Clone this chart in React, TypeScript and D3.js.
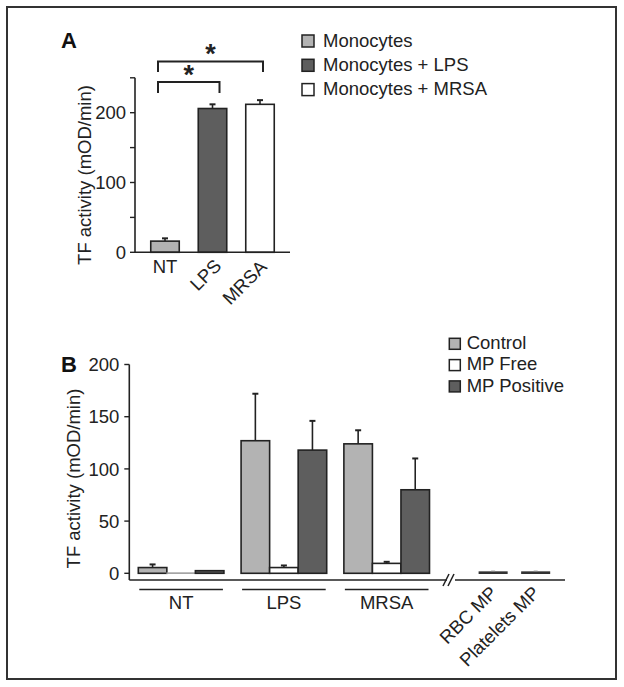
import React from "react";
import * as d3 from "d3";

// ---------- Panel A data ----------
const catsA = ["NT", "LPS", "MRSA"];
const seriesA = ["Monocytes", "Monocytes + LPS", "Monocytes + MRSA"];
const valuesA = [16, 206, 212];
const errTopA = [20, 212, 218];
const ticksA = [0, 50, 100, 150, 200, 250];
const tickLabelsA = ["0", "", "100", "", "200", ""];
const sigPairsA = [["NT", "LPS"], ["NT", "MRSA"]];

// ---------- Panel B data ----------
const groupsB = ["NT", "LPS", "MRSA"];
const seriesB = ["Control", "MP Free", "MP Positive"];
const controlB = [5.5, 127, 124];
const controlTopB = [8.5, 172, 137];
const freeB = [0.4, 5.5, 9.5];
const freeTopB = [0.4, 7.5, 11];
const positiveB = [2.5, 118, 80];
const positiveTopB = [2.8, 146, 110];
const mpOnlyCats = ["RBC MP", "Platelets MP"];
const mpOnlyValues = [1.2, 1.2];
const mpOnlyTop = [1.6, 1.6];
const ticksB = [0, 50, 100, 150, 200];

const LIGHT = "#b3b3b3";
const DARK = "#5e5e5e";
const WHITE = "#ffffff";
const INK = "#222";
const FONT = "Liberation Sans, Arial, Helvetica, sans-serif";

const colorsA = [LIGHT, DARK, WHITE];
const colorsB = [LIGHT, WHITE, DARK];

function ErrBar({ x, y0, y1 }: { x: number; y0: number; y1: number }) {
  return (
    <g stroke={INK} strokeWidth={1.6}>
      <line x1={x} x2={x} y1={y0} y2={y1} />
      <line x1={x - 3} x2={x + 3} y1={y1} y2={y1} strokeWidth={2} />
    </g>
  );
}

export default function App() {
  // Panel A scales
  const xA = d3.scaleBand<string>().domain(catsA).range([141.25, 283.75]).paddingInner(0.4).paddingOuter(0.2);
  const yA = d3.scaleLinear().domain([0, 250]).range([252.3, 77.8]);
  const axisAx = 135;

  // Panel B scales
  const xB = d3.scaleBand<string>().domain(groupsB).range([138.3, 429.5]).paddingInner(0.167).paddingOuter(0);
  const xBin = d3.scaleBand<string>().domain(seriesB).range([0, xB.bandwidth()]).padding(0);
  const xMP = d3.scaleBand<string>().domain(mpOnlyCats).range([479.3, 549.5]).paddingInner(0.35).paddingOuter(0);
  const yB = d3.scaleLinear().domain([0, 200]).range([573.3, 364.5]);
  const axisBx = 129.3;
  const axisBy = 580;

  const valsB = [controlB, freeB, positiveB];
  const topsB = [controlTopB, freeTopB, positiveTopB];

  const bw = xA.bandwidth();
  const cx = (c: string) => (xA(c) as number) + bw / 2;

  const bracketLevels = [{ top: 82, leg: 93, offL: -7, offR: 7, star: 84 }, { top: 61.5, leg: 72, offL: -7, offR: 3, star: 63 }];

  return (
    <svg width={624} height={687} style={{ position: "absolute", left: 0, top: 0, background: "#fff" }} fontFamily={FONT}>
      <rect x={7} y={7} width={609} height={672} fill="none" stroke="#333" strokeWidth={2} />

      {/* ================= Panel A ================= */}
      <text x={61} y={48} fontSize={22} fontWeight="bold" fill="#111">A</text>

      {/* bars */}
      {catsA.map((c, i) => (
        <g key={c}>
          <ErrBar x={cx(c)} y0={yA(valuesA[i])} y1={yA(errTopA[i])} />
          <rect x={xA(c)} y={yA(valuesA[i])} width={bw} height={yA(0) - yA(valuesA[i])} fill={colorsA[i]} stroke={INK} strokeWidth={1.6} />
        </g>
      ))}

      {/* axes */}
      <line x1={axisAx} x2={axisAx} y1={yA(250)} y2={yA(0)} stroke={INK} strokeWidth={1.6} />
      <line x1={axisAx} x2={290} y1={yA(0)} y2={yA(0)} stroke={INK} strokeWidth={1.6} />
      {ticksA.map((t, i) => (
        <g key={t}>
          <line x1={axisAx - 5} x2={axisAx} y1={yA(t)} y2={yA(t)} stroke={INK} strokeWidth={1.4} />
          {tickLabelsA[i] && (
            <text x={axisAx - 9} y={yA(t)} dy="0.36em" textAnchor="end" fontSize={18.5} fill="#222">{tickLabelsA[i]}</text>
          )}
        </g>
      ))}
      <text transform={`translate(91,175) rotate(-90)`} textAnchor="middle" fontSize={18.5} fill="#222">TF activity (mOD/min)</text>

      {/* x labels A */}
      <text x={cx("NT")} y={273} textAnchor="middle" fontSize={18.5} fill="#222">NT</text>
      <text transform={`translate(${cx("LPS") + 10},267) rotate(-45)`} textAnchor="end" fontSize={18.5} fill="#222">LPS</text>
      <text transform={`translate(${cx("MRSA") + 8},268) rotate(-45)`} textAnchor="end" fontSize={18.5} fill="#222">MRSA</text>

      {/* significance brackets */}
      {sigPairsA.map(([a, b], i) => {
        const lv = bracketLevels[i];
        const x1 = cx(a) + lv.offL;
        const x2 = cx(b) + lv.offR;
        return (
          <g key={i}>
            <path d={`M${x1},${lv.leg}V${lv.top}H${x2}V${lv.leg}`} fill="none" stroke={INK} strokeWidth={2} />
            <text x={(x1 + x2) / 2} y={lv.star} textAnchor="middle" fontSize={27} fontWeight="bold" fill="#222">*</text>
          </g>
        );
      })}

      {/* legend A */}
      {seriesA.map((s, i) => (
        <g key={s} transform={`translate(302,${35 + i * 24.3})`}>
          <rect x={0} y={0} width={12} height={12} fill={colorsA[i]} stroke={INK} strokeWidth={1.5} />
          <text x={21} y={11.5} fontSize={18.5} fill="#222">{s}</text>
        </g>
      ))}

      {/* ================= Panel B ================= */}
      <text x={61} y={372} fontSize={22} fontWeight="bold" fill="#111">B</text>

      {groupsB.map((g, gi) => (
        <g key={g} transform={`translate(${xB(g)},0)`}>
          {seriesB.map((s, si) => {
            const v = valsB[si][gi];
            const t = topsB[si][gi];
            const x = xBin(s) as number;
            const w = xBin.bandwidth();
            return (
              <g key={s}>
                {t > v + 0.5 && <ErrBar x={x + w / 2} y0={yB(v)} y1={yB(t)} />}
                <rect x={x} y={yB(v)} width={w} height={Math.max(0.5, yB(0) - yB(v))} fill={colorsB[si]}
                  stroke={v < 1 ? "#999" : INK} strokeWidth={v < 1 ? 1 : 1.6} />
              </g>
            );
          })}
          <line x1={1} x2={xB.bandwidth() - 1} y1={589.5} y2={589.5} stroke={INK} strokeWidth={1.3} />
          <text x={xB.bandwidth() / 2} y={609} textAnchor="middle" fontSize={18.5} fill="#222">{g}</text>
        </g>
      ))}

      {mpOnlyCats.map((c, i) => {
        const x = xMP(c) as number;
        const w = xMP.bandwidth();
        return (
          <g key={c}>
            <rect x={x} y={yB(mpOnlyValues[i])} width={w} height={yB(0) - yB(mpOnlyValues[i])} fill={DARK} stroke="#333" strokeWidth={1.4} />
            <line x1={x + w / 2 - 2} x2={x + w / 2 + 2} y1={yB(mpOnlyTop[i]) - 0.5} y2={yB(mpOnlyTop[i]) - 0.5} stroke="#888" strokeWidth={1} />
            <text transform={`translate(${x + w / 2 + 5},594) rotate(-45)`} textAnchor="end" fontSize={18.5} fill="#222">{c}</text>
          </g>
        );
      })}

      {/* axes B */}
      <line x1={axisBx} x2={axisBx} y1={yB(200)} y2={axisBy} stroke={INK} strokeWidth={1.6} />
      <line x1={axisBx} x2={447} y1={axisBy} y2={axisBy} stroke={INK} strokeWidth={1.6} />
      <line x1={455} x2={565} y1={axisBy} y2={axisBy} stroke={INK} strokeWidth={1.6} />
      <line x1={443} x2={449} y1={586} y2={574} stroke={INK} strokeWidth={1.5} />
      <line x1={448} x2={454} y1={586} y2={574} stroke={INK} strokeWidth={1.5} />
      {ticksB.map((t) => (
        <g key={t}>
          <line x1={axisBx - 5} x2={axisBx} y1={yB(t)} y2={yB(t)} stroke={INK} strokeWidth={1.4} />
          <text x={axisBx - 10} y={yB(t)} dy="0.36em" textAnchor="end" fontSize={18.5} fill="#222">{t}</text>
        </g>
      ))}
      <text transform={`translate(79.5,478.5) rotate(-90)`} textAnchor="middle" fontSize={18.5} fill="#222">TF activity (mOD/min)</text>

      {/* legend B */}
      {seriesB.map((s, i) => (
        <g key={s} transform={`translate(449.3,${338.3 + i * 21.3})`}>
          <rect x={0} y={0} width={11} height={11} fill={colorsB[i]} stroke={INK} strokeWidth={1.5} />
          <text x={17.4} y={10.8} fontSize={18.5} fill="#222">{s}</text>
        </g>
      ))}
    </svg>
  );
}
